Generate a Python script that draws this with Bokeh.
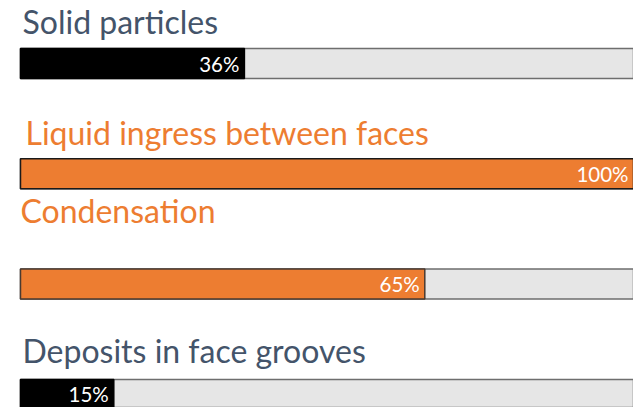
from bokeh.plotting import figure
from bokeh.models import Range1d, ColumnDataSource
from bokeh.core.properties import value
from bokeh.embed import file_html
from bokeh.resources import INLINE

# ---- data ----
categories = ["Solid particles", "Liquid ingress between faces", "Condensation", "Deposits in face grooves"]
percent = [36, 100, 65, 15]
labels = ["36%", "100%", "65%", "15%"]

# ---- styles ----
bar_colors = ["#000000", "#ED7D31", "#ED7D31", "#000000"]
bar_line_colors = ["#000000", "#1a1a1a", "#4a3a30", "#000000"]
title_colors = ["#44546A", "#ED7D31", "#ED7D31", "#44546A"]
title_dx = [2, 5, 0, 2]          # pixel indent of each heading
title_gap = [27, 26, 59, 29]     # pixel shift of heading anchor above bar top

W, H = 633, 407
px_per_pct = 6.22
left_px = 20
row_px = 110.3
first_center_px = 63
bar_px = 30

x0 = -left_px / px_per_pct
x1 = x0 + W / px_per_pct
y_top = -first_center_px / row_px
y_bottom = y_top + H / row_px

p = figure(width=W, height=H, output_backend="svg", toolbar_location=None,
           x_range=Range1d(x0, x1), y_range=Range1d(y_bottom, y_top),
           min_border=0, outline_line_color=None)
p.axis.visible = False
p.grid.visible = False
p.background_fill_color = "white"
p.border_fill_color = "white"

n = len(categories)
idx = list(range(n))
bh = bar_px / row_px

# background track (full 0-100)
p.hbar(y=idx, left=0, right=100, height=bh, fill_color="#E6E6E6",
       line_color="#6E6E6E", line_width=1.5)

src = ColumnDataSource(dict(y=idx, v=percent, c=bar_colors, lc=bar_line_colors,
                            lab=labels,
                            lx=[min(v, x1) for v in percent]))
p.hbar(y="y", left=0, right="v", height=bh, fill_color="c", line_color="lc",
       line_width=1.5, source=src)

p.text(x="lx", y="y", text="lab", source=src, text_color="white",
       text_font=value("Lato"), text_font_size="20.5px", text_align="right",
       text_baseline="middle", x_offset=-5)

ty = [i - (bar_px / 2 + g) / row_px for i, g in zip(idx, title_gap)]
tx = [x0 + d / px_per_pct + left_px / px_per_pct for d in title_dx]
tsrc = ColumnDataSource(dict(x=tx, y=ty, t=categories, c=title_colors))
p.text(x="x", y="y", text="t", source=tsrc, text_color="c",
       text_font=value("Lato"), text_font_size="32px", text_align="left",
       text_baseline="alphabetic")

open("out.html", "w").write(file_html(p, INLINE))
